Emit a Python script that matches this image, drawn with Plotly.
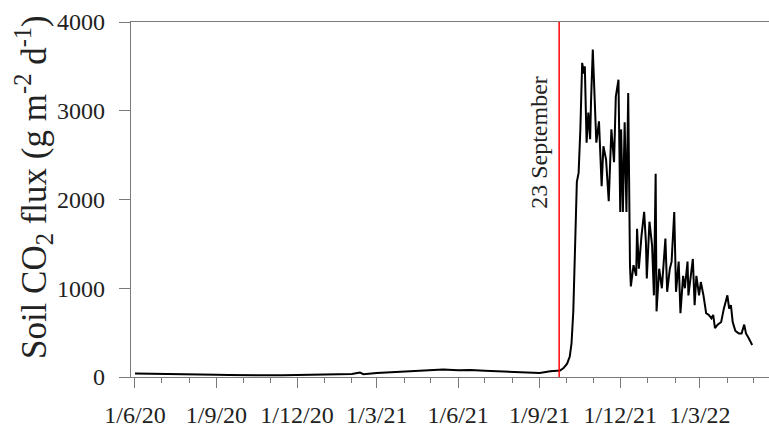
import plotly.graph_objects as go

# ---- data ----
dates = [
    "2020-06-01", "2020-06-15", "2020-07-01", "2020-07-15", "2020-08-01", "2020-08-15",
    "2020-09-01", "2020-09-15", "2020-10-01", "2020-10-15", "2020-11-01", "2020-11-15",
    "2020-12-01", "2020-12-15", "2021-01-01", "2021-01-15", "2021-02-01", "2021-02-10",
    "2021-02-14", "2021-03-01", "2021-03-15", "2021-04-01", "2021-04-15", "2021-05-01",
    "2021-05-15", "2021-06-01", "2021-06-15", "2021-07-01", "2021-07-15", "2021-08-01",
    "2021-08-15", "2021-09-01", "2021-09-13", "2021-09-24", "2021-09-28", "2021-10-02",
    "2021-10-05", "2021-10-07", "2021-10-09", "2021-10-11", "2021-10-13", "2021-10-15",
    "2021-10-17", "2021-10-19", "2021-10-21", "2021-10-22", "2021-10-24", "2021-10-26",
    "2021-10-28", "2021-10-29", "2021-10-31", "2021-11-04", "2021-11-07", "2021-11-10",
    "2021-11-12", "2021-11-15", "2021-11-18", "2021-11-21", "2021-11-24", "2021-11-26",
    "2021-11-29", "2021-12-01", "2021-12-02", "2021-12-04", "2021-12-06", "2021-12-08",
    "2021-12-10", "2021-12-12", "2021-12-13", "2021-12-16", "2021-12-19", "2021-12-20",
    "2021-12-22", "2021-12-25", "2021-12-28", "2021-12-30", "2021-12-31", "2022-01-03",
    "2022-01-06", "2022-01-08", "2022-01-10", "2022-01-11", "2022-01-14", "2022-01-17",
    "2022-01-19", "2022-01-21", "2022-01-23", "2022-01-26", "2022-01-28", "2022-01-31",
    "2022-02-02", "2022-02-05", "2022-02-07", "2022-02-10", "2022-02-12", "2022-02-15",
    "2022-02-16", "2022-02-19", "2022-02-21", "2022-02-23", "2022-02-25", "2022-02-28",
    "2022-03-02", "2022-03-05", "2022-03-08", "2022-03-11", "2022-03-14", "2022-03-16",
    "2022-03-18", "2022-03-21", "2022-03-25", "2022-03-28", "2022-03-30", "2022-04-01",
    "2022-04-03", "2022-04-05", "2022-04-07", "2022-04-10", "2022-04-14", "2022-04-17",
    "2022-04-20", "2022-04-22", "2022-04-25", "2022-04-29",
]
co2_flux = [
    40, 38, 36, 40, 32, 28,
    25, 22, 20, 25, 22, 20,
    22, 25, 30, 32, 35, 50,
    32, 45, 52, 60, 70, 75,
    85, 75, 78, 70, 65, 60,
    50, 45, 65, 72, 100, 150,
    230, 380, 740, 1600, 2200, 2300,
    2800, 3540, 3420, 3500, 2640, 2980,
    2680, 3100, 3690, 2640, 2880, 2150,
    2600, 2450, 1980, 2790, 2420, 3160,
    3350, 1860, 2790, 1860, 2870, 1860,
    3200, 1260, 1020, 1260, 1140, 1670,
    1220, 1590, 1860, 1520, 1110, 1750,
    1480, 920, 2290, 740, 1220, 1000,
    1260, 1560, 960, 1220, 1300, 1860,
    960, 1300, 720, 1140, 1000, 1300,
    920, 1140, 1330, 810, 1140, 920,
    1070, 920, 720, 700, 660, 700,
    550, 590, 620, 770, 850, 920,
    770, 810, 620, 520, 490, 490,
    590, 490, 440, 360,
]

event_date = "2021-09-23"
event_label = "23 September"
y_title = "Soil CO<sub>2</sub> flux (g m<sup>-2</sup> d<sup>-1</sup>)"
x_range = ["2020-05-27 12:00", "2022-05-18"]
y_range = [0, 4000]

serif = "Liberation Serif"
axis_col = "#7a7a7a"
text_col = "#222222"

fig = go.Figure()
fig.add_trace(go.Scatter(
    x=dates, y=co2_flux, mode="lines",
    line=dict(color="black", width=2),
    showlegend=False, hoverinfo="skip",
))

fig.add_shape(type="line", xref="x", yref="y",
              x0=event_date, x1=event_date, y0=0, y1=4070,
              line=dict(color="#ff0000", width=1.5), layer="above")

fig.add_annotation(x=event_date, xref="x", y=2640, yref="y",
                   text=event_label, textangle=-90, showarrow=False,
                   xanchor="center", yanchor="middle", xshift=-20,
                   font=dict(family=serif, size=24, color=text_col))

fig.add_annotation(x=-0.1536, xref="paper", y=0.535, yref="paper",
                   text=y_title, textangle=-90, showarrow=False,
                   xanchor="center", yanchor="middle",
                   font=dict(family=serif, size=35, color=text_col))

fig.update_layout(
    width=769, height=428,
    margin=dict(l=131, r=0, t=22, b=49),
    paper_bgcolor="white", plot_bgcolor="white",
    font=dict(family=serif, color=text_col),
)
fig.update_xaxes(
    type="date", range=x_range,
    showgrid=False, zeroline=False,
    showline=True, linecolor=axis_col, linewidth=1.2, mirror=True,
    ticks="outside", ticklen=10, tickcolor=axis_col, tickwidth=1.2,
    tick0="2020-06-01", dtick="M3", tickformat="%-d/%-m/%y",
    tickfont=dict(family=serif, size=24, color=text_col),
    ticklabelstandoff=6,
    minor=dict(dtick="M1", tick0="2020-06-01", ticks="outside", ticklen=5,
               tickcolor=axis_col, tickwidth=1.2, showgrid=False),
)
fig.update_yaxes(
    range=y_range, dtick=1000, tick0=0,
    showgrid=False, zeroline=False,
    showline=True, linecolor=axis_col, linewidth=1.2,
    ticks="outside", ticklen=11, tickcolor=axis_col, tickwidth=1.2,
    tickfont=dict(family=serif, size=24, color=text_col),
    ticklabelstandoff=9,
)

fig.write_html("out.html")
